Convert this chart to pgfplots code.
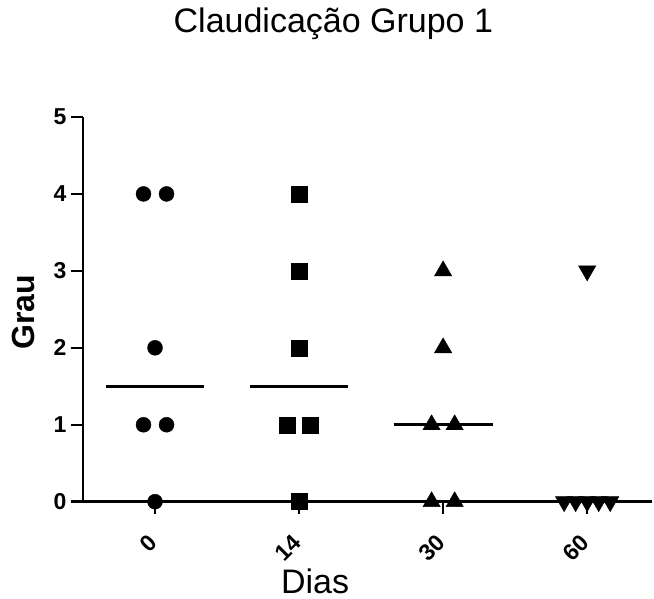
\documentclass[border=0pt]{standalone}
\usepackage{fontspec}
\setmainfont{Liberation Sans}
\usepackage{pgfplots}
\pgfplotsset{compat=1.18}
\newcommand{\tl}[1]{\mbox{\fontsize{23}{25}\selectfont\bfseries #1}}
\begin{document}
\begin{tikzpicture}
\begin{axis}[
  at={(83pt,97.3pt)}, anchor=south west,
  scale only axis, width=569pt, height=384.7pt,
  xmin=-0.5, xmax=3.45, ymin=0, ymax=5,
  clip=false,
  axis x line*=bottom, axis y line*=left,
  axis line style={line width=2.4pt},
  every outer x axis line/.append style={line width=2.4pt},
  every outer y axis line/.append style={line width=2.4pt},
  tick style={line width=2.4pt, black},
  tick align=outside, major tick length=12pt,
  /pgf/number format/assume math mode=true,
  xtick={0,1,2,3}, xticklabels={\tl{0},\tl{14},\tl{30},\tl{60}},
  ytick={0,1,2,3,4,5}, yticklabels={\tl{0},\tl{1},\tl{2},\tl{3},\tl{4},\tl{5}},
  xticklabel style={rotate=45, anchor=east, xshift=-16pt, yshift=-16pt},
  yticklabel style={xshift=-1pt},
  title={Claudicação Grupo 1},
  title style={at={(axis description cs:0.44,1.226)}, anchor=center, font=\fontsize{34}{40}\selectfont},
  xlabel={Dias},
  xlabel style={at={(axis description cs:0.408,-0.206)}, anchor=center, font=\fontsize{34}{40}\selectfont},
  ylabel={Grau},
  ylabel style={at={(axis description cs:-0.104,0.493)}, anchor=center, rotate=0, font=\fontsize{32}{36}\selectfont\bfseries},
]
% medians
\addplot[black, line width=3pt, no marks] coordinates {(-0.343,1.5) (0.343,1.5)};
\addplot[black, line width=3pt, no marks] coordinates {(0.657,1.5) (1.343,1.5)};
\addplot[black, line width=3pt, no marks] coordinates {(1.657,1) (2.343,1)};
\addplot[black, line width=3pt, no marks] coordinates {(2.657,0) (3.343,0)};
% day 0
\addplot[only marks, mark=*, mark size=7.5pt, black] coordinates {
 (0,0) (-0.08,1) (0.08,1) (0,2) (-0.08,4) (0.08,4)};
% day 14
\addplot[only marks, mark=square*, mark size=8pt, black] coordinates {
 (1,0) (0.92,1) (1.08,1) (1,2) (1,3) (1,4)};
% day 30
\addplot[only marks, mark=triangle*, mark size=10pt, black] coordinates {
 (1.92,0) (2.08,0) (1.92,1) (2.08,1) (2,2) (2,3)};
% day 60
\addplot[only marks, mark=triangle*, mark size=10pt, black, every mark/.append style={rotate=180}] coordinates {
 (2.84,0) (2.92,0) (3,0) (3.08,0) (3.16,0) (3,3)};
\end{axis}
\pgfresetboundingbox
\path[use as bounding box] (0,0) rectangle (654pt,599pt);
\end{tikzpicture}
\end{document}
